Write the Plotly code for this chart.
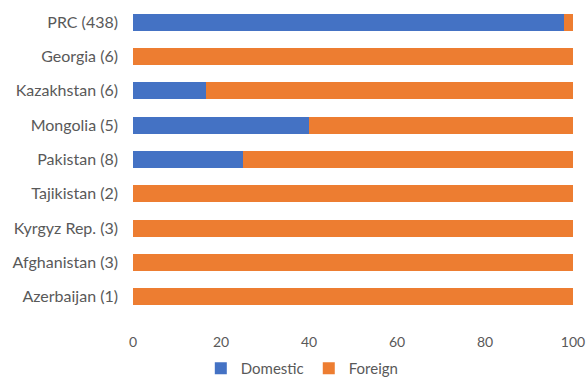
import plotly.graph_objects as go

# Share of projects by financing source, per country (percent)
countries = ["PRC (438)", "Georgia (6)", "Kazakhstan (6)", "Mongolia (5)", "Pakistan (8)",
             "Tajikistan (2)", "Kyrgyz Rep. (3)", "Afghanistan (3)", "Azerbaijan (1)"]
domestic = [97.9, 0, 16.7, 40, 25, 0, 0, 0, 0]
foreign = [2.1, 100, 83.3, 60, 75, 100, 100, 100, 100]
x_ticks = [0, 20, 40, 60, 80, 100]

BLUE = "#4472C4"
ORANGE = "#ED7D31"
TEXT = "#595959"
FONT = "Lato, Open Sans, sans-serif"

fig = go.Figure()
fig.add_trace(go.Bar(y=countries, x=domestic, name="Domestic", orientation="h",
                     marker=dict(color=BLUE, line=dict(width=0))))
fig.add_trace(go.Bar(y=countries, x=foreign, name="Foreign", orientation="h",
                     marker=dict(color=ORANGE, line=dict(width=0))))

fig.update_layout(
    width=587, height=385,
    barmode="stack", bargap=0.5,
    margin=dict(l=133, r=14, t=5, b=71),
    paper_bgcolor="white", plot_bgcolor="white",
    font=dict(family=FONT, size=15, color=TEXT),
    xaxis=dict(range=[0, 100], tickvals=x_ticks, showgrid=False, zeroline=False,
               showline=False, ticks="", ticklabelstandoff=18, automargin=False,
               tickfont=dict(size=14, color=TEXT)),
    yaxis=dict(categoryorder="array", categoryarray=countries, autorange="reversed",
               showgrid=False, showline=False, ticks="", ticklabelstandoff=14,
               automargin=False, tickfont=dict(size=16, color=TEXT)),
    legend=dict(orientation="h", x=0.515, xanchor="center", xref="container",
                y=-0.022, yanchor="bottom", yref="container",
                font=dict(size=15, color=TEXT), itemwidth=30, traceorder="normal"),
)

fig.write_html("out.html")
